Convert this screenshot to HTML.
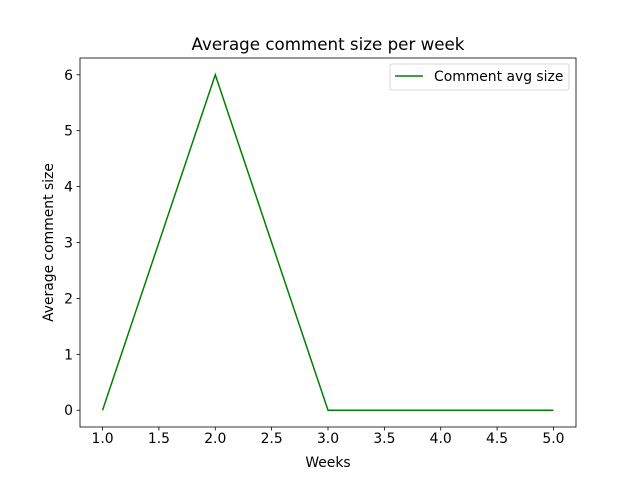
<!DOCTYPE html>
<html><head><meta charset="utf-8"><style>
body{margin:0;background:#fff;}
svg text{font-family:"DejaVu Sans","Liberation Sans",sans-serif;}
</style></head><body>
<svg id="chart" width="640" height="480" xmlns="http://www.w3.org/2000/svg">
<rect width="640" height="480" fill="#fff"/>
<g id="plot"></g>
</svg>
<script>
const weeks=[1,2,3,4,5];
const avgSize=[0,6,0,0,0];
const xTicks=[1.0,1.5,2.0,2.5,3.0,3.5,4.0,4.5,5.0];
const yTicks=[0,1,2,3,4,5,6];
const L=80,R=576,T=58,B=427;
const xMin=0.8,xMax=5.2,yMin=-0.3,yMax=6.3;
const xs=v=>L+(v-xMin)/(xMax-xMin)*(R-L);
const ys=v=>B-(v-yMin)/(yMax-yMin)*(B-T);
const svg=document.getElementById('plot');
const NS='http://www.w3.org/2000/svg';
function mk(tag,attrs,txt){const e=document.createElementNS(NS,tag);for(const k in attrs)e.setAttribute(k,attrs[k]);if(txt!==undefined)e.textContent=txt;svg.appendChild(e);return e;}
xTicks.forEach(t=>{
 const x=xs(t);
 const tk=mk('line',{x1:x,x2:x,y1:B,y2:B+3.5,stroke:'#000','stroke-width':0.8});
 
 
 const lb=mk('text',{x:x,y:B+16,'text-anchor':'middle','font-size':13.9},t.toFixed(1));
 
 
});
yTicks.forEach(t=>{
 const y=ys(t);
 const tk=mk('line',{x1:L-3.5,x2:L,y1:y,y2:y,stroke:'#000','stroke-width':0.8});
 
 
 const lb=mk('text',{x:L-7,y:y+5,'text-anchor':'end','font-size':13.9},String(t));
 
 
});
const pts=weeks.map((w,i)=>xs(w)+','+ys(avgSize[i])).join(' ');
const line=mk('polyline',{points:pts,fill:'none',stroke:'#008000','stroke-width':1.5});


const frame=mk('rect',{x:L,y:T,width:R-L,height:B-T,fill:'none',stroke:'#000','stroke-width':0.8});


const title=mk('text',{x:(L+R)/2,y:T-8,'text-anchor':'middle','font-size':16.7},'Average comment size per week');


const xt=mk('text',{x:(L+R)/2,y:467,'text-anchor':'middle','font-size':13.9},'Weeks');


const yt=mk('text',{x:0,y:0,'text-anchor':'middle','font-size':13.9,transform:'translate(53,'+((T+B)/2)+') rotate(-90)'},'Average comment size');


const lg=mk('rect',{x:390,y:64,width:179,height:26,rx:2,fill:'#fff',stroke:'#ccc','stroke-width':0.8});


const ll=mk('line',{x1:395,x2:423,y1:76,y2:76,stroke:'#008000','stroke-width':1.5});


const lt=mk('text',{x:434,y:81,'font-size':13.9},'Comment avg size');


</script>
</body></html>
